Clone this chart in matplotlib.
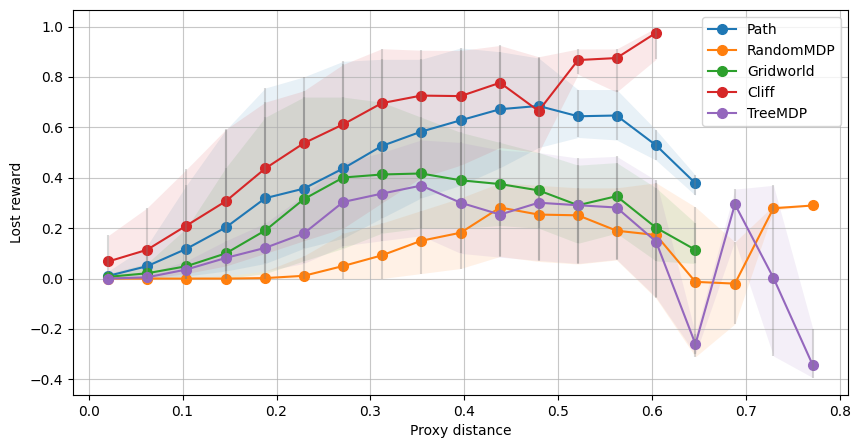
import numpy as np
import matplotlib
matplotlib.use("Agg")
import matplotlib.pyplot as plt

# bin centres of proxy distance
proxy = [0.021, 0.062, 0.104, 0.146, 0.188, 0.229, 0.271, 0.312, 0.354, 0.396,
         0.438, 0.479, 0.521, 0.562, 0.604, 0.646, 0.688, 0.729, 0.771]

# mean lost reward per environment
path_mean = [0.011, 0.049, 0.118, 0.203, 0.319, 0.357, 0.437, 0.526, 0.583, 0.628,
             0.672, 0.685, 0.644, 0.647, 0.529, 0.378]
random_mean = [0.0, 0.0, 0.0, 0.0, 0.002, 0.011, 0.05, 0.092, 0.15, 0.182,
               0.282, 0.254, 0.251, 0.19, 0.173, -0.013, -0.02, 0.279, 0.29]
grid_mean = [0.007, 0.021, 0.049, 0.1, 0.191, 0.315, 0.401, 0.413, 0.417, 0.39,
             0.375, 0.35, 0.291, 0.327, 0.202, 0.114]
cliff_mean = [0.068, 0.114, 0.21, 0.307, 0.437, 0.537, 0.612, 0.696, 0.726, 0.724,
              0.777, 0.665, 0.867, 0.875, 0.975]
tree_mean = [0.0, 0.005, 0.036, 0.082, 0.122, 0.179, 0.304, 0.337, 0.369, 0.301,
             0.254, 0.301, 0.291, 0.282, 0.147, -0.26, 0.295, 0.003, -0.344]

# spread (lower / upper bounds)
path_lo = [0.0, 0.0, 0.01, 0.03, 0.06, 0.12, 0.16, 0.24, 0.32, 0.37,
           0.44, 0.52, 0.56, 0.55, 0.47, 0.33]
path_hi = [0.03, 0.13, 0.37, 0.59, 0.756, 0.8, 0.862, 0.87, 0.87, 0.915,
           0.9, 0.875, 0.75, 0.75, 0.59, 0.41]
random_lo = [0.0, 0.0, 0.0, 0.0, 0.0, 0.0, 0.0, 0.0, 0.02, 0.04,
             0.088, 0.068, 0.058, 0.074, -0.078, -0.31, -0.18, 0.27, 0.29]
random_hi = [0.0, 0.0, 0.005, 0.01, 0.03, 0.09, 0.18, 0.22, 0.27, 0.32,
             0.38, 0.37, 0.36, 0.36, 0.38, 0.284, 0.145, 0.29, 0.29]
grid_lo = [0.0, 0.0, 0.0, 0.0, 0.02, 0.07, 0.12, 0.18, 0.2, 0.2,
           0.21, 0.2, 0.14, 0.18, 0.07, 0.06]
grid_hi = [0.02, 0.06, 0.2, 0.44, 0.64, 0.72, 0.72, 0.7, 0.64, 0.58,
           0.54, 0.5, 0.45, 0.46, 0.36, 0.22]
cliff_lo = [0.0, 0.0, 0.02, 0.05, 0.1, 0.15, 0.2, 0.3, 0.4, 0.45,
            0.52, 0.5, 0.81, 0.74, 0.87]
cliff_hi = [0.171, 0.28, 0.433, 0.592, 0.7, 0.745, 0.85, 0.912, 0.906, 0.905,
            0.925, 0.88, 0.911, 0.911, 0.995]
tree_lo = [0.0, 0.0, 0.0, 0.01, 0.03, 0.06, 0.13, 0.15, 0.17, 0.1,
           0.085, 0.072, 0.06, 0.076, -0.074, -0.3, 0.15, -0.307, -0.393]
tree_hi = [0.005, 0.02, 0.07, 0.15, 0.22, 0.33, 0.46, 0.5, 0.55, 0.54,
           0.51, 0.5, 0.478, 0.485, 0.39, -0.22, 0.355, 0.37, -0.2]

series = [
    ("Path", path_mean, path_lo, path_hi),
    ("RandomMDP", random_mean, random_lo, random_hi),
    ("Gridworld", grid_mean, grid_lo, grid_hi),
    ("Cliff", cliff_mean, cliff_lo, cliff_hi),
    ("TreeMDP", tree_mean, tree_lo, tree_hi),
]

fig, ax = plt.subplots(figsize=(8.61, 4.48), dpi=100)
fig.subplots_adjust(left=0.085, right=0.985, top=0.977, bottom=0.118)

for i, (name, mean, lo, hi) in enumerate(series):
    n = len(mean)
    x = np.array(proxy[:n])
    m = np.array(mean)
    lo = np.array(lo)
    hi = np.array(hi)
    color = f"C{i}"
    ax.plot(x, m, marker="o", markersize=7, color=color, label=name)
    ax.fill_between(x, lo, hi, color=color, alpha=0.1, linewidth=0)
    ax.errorbar(x, m, yerr=[m - lo, hi - m], fmt="none", ecolor="gray", alpha=0.3)

ax.set_xlabel("Proxy distance")
ax.set_ylabel("Lost reward")
ax.grid(True, alpha=0.7)
ax.legend(loc="upper right")
fig.savefig("out.png", dpi=100)
